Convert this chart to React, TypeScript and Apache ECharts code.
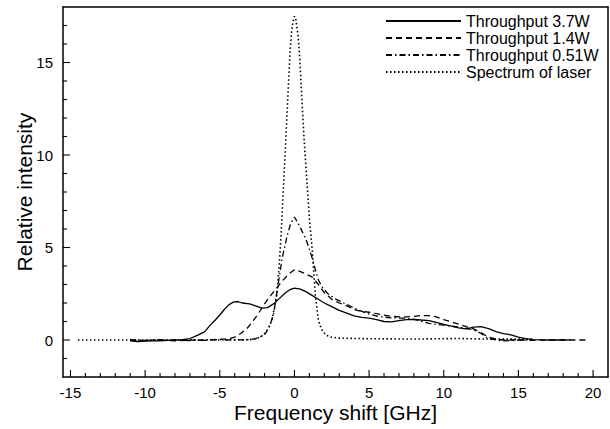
import React, { useEffect, useRef } from "react";
import * as echarts from "echarts";

const seriesNames = ["Throughput 3.7W", "Throughput 1.4W", "Throughput 0.51W", "Spectrum of laser"];

const x37 = [-11, -10.5, -10, -9.5, -9, -8.5, -8, -7.5, -7, -6.5, -6, -5.7, -5.3, -5, -4.7, -4.4, -4.1, -3.8, -3.5, -3, -2.6, -2.2, -1.8, -1.4, -1, -0.6, -0.3, 0, 0.4, 0.8, 1.2, 1.6, 2, 2.5, 3, 3.5, 4, 4.5, 5, 5.5, 6, 6.5, 7, 7.5, 8, 8.5, 9, 9.5, 10, 10.5, 11, 11.5, 12, 12.5, 13, 13.5, 14, 14.5, 15, 15.5, 16, 17, 18, 18.5];
const y37 = [-0.05, -0.08, -0.06, -0.04, -0.05, -0.02, 0, 0.02, 0.08, 0.25, 0.45, 0.75, 1.08, 1.35, 1.65, 1.9, 2.05, 2.08, 2.0, 1.95, 1.85, 1.72, 1.75, 1.95, 2.25, 2.55, 2.72, 2.8, 2.75, 2.6, 2.4, 2.2, 2.0, 1.8, 1.6, 1.45, 1.3, 1.22, 1.18, 1.1, 1.0, 0.98, 1.05, 1.1, 1.12, 1.08, 1.05, 0.95, 0.85, 0.75, 0.65, 0.6, 0.7, 0.72, 0.62, 0.45, 0.35, 0.28, 0.15, 0.08, 0.02, 0, 0, 0.01];

const x14 = [-11, -10, -9, -8, -7, -6, -5, -4.5, -4, -3.6, -3.2, -2.8, -2.4, -2, -1.6, -1.2, -0.8, -0.4, 0, 0.4, 0.8, 1.2, 1.6, 2, 2.5, 3, 3.5, 4, 4.5, 5, 5.5, 6, 6.5, 7, 7.5, 8, 8.5, 9, 9.5, 10, 10.5, 11, 11.5, 12, 12.5, 13, 13.5, 14, 15, 16, 17, 18, 19, 19.5];
const y14 = [0, -0.03, 0, -0.05, 0, -0.02, 0.05, 0.05, 0.15, 0.35, 0.6, 1.0, 1.45, 1.95, 2.4, 2.8, 3.2, 3.55, 3.8, 3.7, 3.55, 3.4, 3.0, 2.55, 2.2, 2.0, 1.85, 1.65, 1.55, 1.5, 1.42, 1.35, 1.28, 1.25, 1.25, 1.28, 1.32, 1.32, 1.25, 1.1, 0.98, 0.85, 0.72, 0.6, 0.4, 0.15, 0.05, 0, 0, -0.02, 0, 0, 0, 0];

const x051 = [-11, -10, -9, -8, -7, -6, -5, -4, -3, -2.6, -2.2, -1.9, -1.6, -1.4, -1.2, -1, -0.8, -0.5, -0.25, 0, 0.25, 0.5, 0.75, 1, 1.2, 1.4, 1.6, 1.9, 2.3, 2.8, 3.3, 3.7, 4.2, 5, 5.7, 6.5, 7.3, 8, 9, 10, 11, 12, 12.5, 12.9, 13.5, 14, 15, 16];
const y051 = [0, -0.02, 0.02, 0, -0.03, 0, 0.02, 0, 0.02, 0.08, 0.2, 0.4, 0.9, 1.4, 2.4, 3.5, 4.5, 5.6, 6.3, 6.65, 6.3, 5.9, 5.5, 4.9, 4.4, 3.8, 3.25, 2.8, 2.45, 2.2, 2.0, 1.85, 1.65, 1.4, 1.26, 1.2, 1.18, 1.12, 0.9, 0.8, 0.7, 0.55, 0.35, 0.12, 0, -0.05, 0, -0.02];

const xLaser = [-14.5, -10, -5, -3, -2.5, -2, -1.7, -1.5, -1.3, -1.15, -1, -0.9, -0.75, -0.6, -0.45, -0.3, -0.2, -0.1, 0, 0.1, 0.25, 0.35, 0.5, 0.65, 0.85, 1, 1.2, 1.4, 1.6, 1.8, 2.1, 2.5, 3, 5, 8, 11, 13, 16];
const yLaser = [0, 0, 0, 0.02, 0.08, 0.3, 0.7, 1.1, 1.9, 2.7, 4.3, 5.6, 8.0, 10.5, 13, 15.5, 16.6, 17.2, 17.5, 17.3, 16.4, 15.3, 13, 10.8, 8.4, 6.6, 4.8, 2.4, 1.1, 0.6, 0.27, 0.15, 0.1, 0.07, 0.05, 0.08, 0.05, 0.05];

// tick positions (axis values)
const xMajorTicks = [-15, -10, -5, 0, 5, 10, 15, 20];
const xMinorTicks = [-14, -13, -12, -11, -9, -8, -7, -6, -4, -3, -2, -1, 1, 2, 3, 4, 6, 7, 8, 9, 11, 12, 13, 14, 16, 17, 18, 19];
const yMajorTicks = [0, 5, 10, 15];
const yMinorTicks = [-1, 1, 2, 3, 4, 6, 7, 8, 9, 11, 12, 13, 14, 16, 17];

const X_MIN = -15.5;
const X_MAX = 21;
const Y_MIN = -2;
const Y_MAX = 18;

const zip = (xs: number[], ys: number[]) => xs.map((x, i) => [x, ys[i]]);

const FONT = "Liberation Sans";

export default function App() {
  const ref = useRef<HTMLDivElement>(null);
  useEffect(() => {
    if (!ref.current) return;
    const chart = echarts.init(ref.current, null, { renderer: "svg" });
    const styles: any[] = ["solid", [6, 4], [6, 3, 1.5, 3], [1.5, 2.5]];
    const datas = [zip(x37, y37), zip(x14, y14), zip(x051, y051), zip(xLaser, yLaser)];
    const frameLine = { show: true, onZero: false, lineStyle: { color: "#000", width: 1.5 } };

    const xTickData = [
      ...xMajorTicks.map((v) => [v, 7]),
      ...xMinorTicks.map((v) => [v, 4]),
    ];
    const yTickData = [
      ...yMajorTicks.map((v) => [v, 7]),
      ...yMinorTicks.map((v) => [v, 4]),
    ];

    const tickSeries = [
      {
        type: "custom",
        name: "xticks",
        silent: true,
        clip: false,
        z: 5,
        data: xTickData,
        encode: { x: 0 },
        renderItem: (_p: any, api: any) => {
          const p = api.coord([api.value(0), Y_MIN]);
          const len = api.value(1);
          return {
            type: "line",
            shape: { x1: p[0], y1: p[1], x2: p[0], y2: p[1] - len },
            style: { stroke: "#000", lineWidth: 1.1 },
          };
        },
      },
      {
        type: "custom",
        name: "yticks",
        silent: true,
        clip: false,
        z: 5,
        data: yTickData,
        encode: { y: 0 },
        renderItem: (_p: any, api: any) => {
          const p = api.coord([X_MIN, api.value(0)]);
          const len = api.value(1);
          return {
            type: "line",
            shape: { x1: p[0], y1: p[1], x2: p[0] + len, y2: p[1] },
            style: { stroke: "#000", lineWidth: 1.1 },
          };
        },
      },
    ];

    chart.setOption({
      animation: false,
      backgroundColor: "#fff",
      textStyle: { fontFamily: FONT },
      grid: { left: 63, right: 2, top: 7, bottom: 52, show: false, containLabel: false },
      legend: {
        orient: "vertical",
        left: 385,
        top: 13,
        itemWidth: 75,
        itemHeight: 14,
        itemGap: 1,
        padding: 0,
        itemStyle: { opacity: 0 },
        textStyle: { fontFamily: FONT, fontSize: 16, color: "#000" },
        data: seriesNames,
      },
      xAxis: [
        {
          type: "value",
          min: X_MIN,
          max: X_MAX,
          splitNumber: 8,
          name: "Frequency shift [GHz]",
          nameLocation: "middle",
          nameGap: 25,
          nameMoveOverlap: false,
          nameTextStyle: { fontFamily: FONT, fontSize: 21, color: "#000" },
          axisLine: frameLine,
          axisTick: { show: false },
          minorTick: { show: false },
          axisLabel: { interval: 0, showMinLabel: false, showMaxLabel: false, hideOverlap: false, color: "#000", fontSize: 15, margin: 8, fontFamily: FONT },
          splitLine: { show: false },
        },
        {
          type: "value",
          position: "top",
          min: X_MIN,
          max: X_MAX,
          axisLine: frameLine,
          axisTick: { show: false },
          minorTick: { show: false },
          axisLabel: { show: false },
          splitLine: { show: false },
        },
      ],
      yAxis: [
        {
          type: "value",
          min: Y_MIN,
          max: Y_MAX,
          splitNumber: 5,
          name: "Relative intensity",
          nameLocation: "middle",
          nameGap: 28,
          nameMoveOverlap: false,
          nameTextStyle: { fontFamily: FONT, fontSize: 21, color: "#000" },
          axisLine: frameLine,
          axisTick: { show: false },
          minorTick: { show: false },
          axisLabel: { interval: 0, showMinLabel: false, showMaxLabel: false, color: "#000", fontSize: 15, margin: 10, fontFamily: FONT },
          splitLine: { show: false },
        },
        {
          type: "value",
          position: "right",
          min: Y_MIN,
          max: Y_MAX,
          axisLine: frameLine,
          axisTick: { show: false },
          minorTick: { show: false },
          axisLabel: { show: false },
          splitLine: { show: false },
        },
      ],
      series: [
        ...seriesNames.map((name, i) => ({
          name,
          type: "line",
          xAxisIndex: 0,
          yAxisIndex: 0,
          data: datas[i],
          symbol: "none",
          showSymbol: false,
          lineStyle: { color: "#000", width: i === 3 ? 1.6 : 1.3, type: styles[i] },
          itemStyle: { color: "#000" },
        })),
        ...tickSeries,
      ],
    });
    return () => chart.dispose();
  }, []);
  return <div ref={ref} style={{ width: 610, height: 429, position: "absolute", left: 0, top: 0 }} />;
}
